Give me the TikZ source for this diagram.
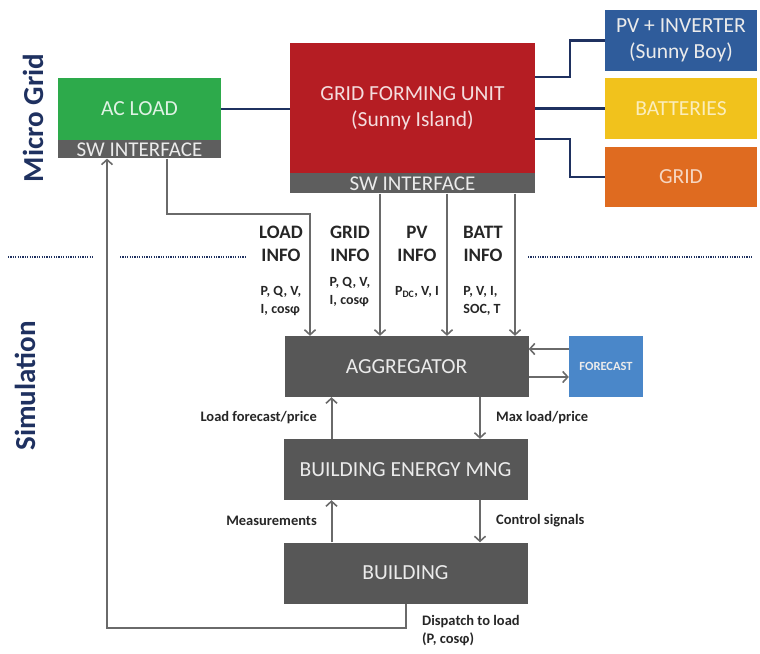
\documentclass[tikz,border=0pt]{standalone}
\usepackage{fontspec}
\setmainfont{Carlito}
\usepackage{tikz}
\usetikzlibrary{
  positioning,
  calc,
  arrows.meta
}
\definecolor{navy}{HTML}{1F3160}
\definecolor{darkbox}{HTML}{575757}
\definecolor{swgray}{HTML}{5E5E5E}
\definecolor{lineg}{HTML}{6A6A6A}
\definecolor{loadgreen}{HTML}{2DAA4B}
\definecolor{gfured}{HTML}{B51D23}
\definecolor{pvblue}{HTML}{2F5C9B}
\definecolor{battyellow}{HTML}{F1C21C}
\definecolor{gridorange}{HTML}{DF6B20}
\definecolor{fcblue}{HTML}{4A87C9}
\tikzstyle{box}=[inner sep=0, align=center, text=white!92!black, font=\fontsize{21.5}{26}\selectfont]
\tikzstyle{swbox}=[box, fill=swgray, font=\fontsize{21}{22}\selectfont]
\tikzstyle{simbox}=[box, fill=darkbox, minimum width=244, minimum height=61]
\tikzstyle{power}=[navy, line width=2.2]
\tikzstyle{info}=[lineg, line width=2, -{Straight Barb[length=5pt,width=11pt,line width=1.6pt]}]
\tikzstyle{infolbl}=[inner sep=0, align=center, text=black!85, font=\bfseries\fontsize{19}{23}\selectfont]
\tikzstyle{parlbl}=[inner sep=0, align=left, text=black!85, font=\bfseries\fontsize{14}{17.5}\selectfont]
\tikzstyle{sidelbl}=[inner sep=0, align=left, text=black!85, font=\bfseries\fontsize{14.5}{18}\selectfont]
\tikzstyle{section}=[inner sep=0, rotate=90, text=navy, font=\bfseries\fontsize{29}{31}\selectfont]

\begin{document}
\begin{tikzpicture}[x=1pt, y=-1pt]
    \useasboundingbox (0,0) rectangle (760,653);

    % MICRO GRID
    \node[box, fill=loadgreen, minimum width=163, minimum height=62, text=white!85!loadgreen] (acload) at (139.5,109) {AC LOAD};
    \node[swbox, minimum width=163, minimum height=18, below=0 of acload] (aclsw) {SW INTERFACE};
    \node[box, fill=gfured, minimum width=245, minimum height=130, text=white!85!gfured] (gfu) at (412.5,108) {GRID FORMING UNIT\\(Sunny Island)};
    \node[swbox, minimum width=245, minimum height=20, below=0 of gfu] (gfusw) {SW INTERFACE};
    \node[box, fill=pvblue, minimum width=152, minimum height=61] (pv) at (681,40.5) {PV + INVERTER\\(Sunny Boy)};
    \node[box, fill=battyellow, minimum width=152, minimum height=61, text=white!70!battyellow] (batt) at (681,108.5) {BATTERIES};
    \node[box, fill=gridorange, minimum width=152, minimum height=60, text=white!72!gridorange] (grid) at (681,177) {GRID};

    \draw[power] (acload.east) -- (acload.east -| gfu.west);
    \draw[power] ([yshift=31pt]gfu.east) -- ++(35,0) |- (pv.west);
    \draw[power] (batt.west -| gfu.east) -- (batt.west);
    \draw[power] ([yshift=-31pt]gfu.east) -- ++(35,0) |- (grid.west);

    % SIMULATION
    \node[simbox] (agg) at (406.5,366.5) {AGGREGATOR};
    \node[box, fill=fcblue, minimum width=74, minimum height=61, font=\bfseries\fontsize{12.5}{14}\selectfont] (fc) at (606,366.5) {FORECAST};
    \node[simbox] (bem) at (405.5,469.5) {BUILDING ENERGY MNG};
    \node[simbox] (bld) at (405.5,573) {BUILDING};

    % SECTIONS
    \node[section] (mg) at (33,118) {Micro Grid};
    \node[section] (sim) at (25,386) {Simulation};
    \draw[navy, line width=1.6, dash pattern=on 1.2pt off 1.2pt] (8,257) -- (93,257);
    \draw[navy, line width=1.6, dash pattern=on 1.2pt off 1.2pt] (120,257) -- (247,257);
    \draw[navy, line width=1.6, dash pattern=on 1.2pt off 1.2pt] (528,257) -- (752,257);

    % INFO ARROWS
    \draw[info] ([xshift=27.5pt]aclsw.south) -- ++(0,55) -| ([xshift=-96.5pt]agg.north);
    \foreach \dx/\nm in {-32.5/gridtap, 34.5/pvtap, 102.5/batttap}{
        \coordinate (\nm) at ([xshift=\dx pt]gfusw.south);
        \draw[info] (\nm) -- (\nm |- agg.north);
      }
    \node[infolbl] (loadinfo) at (281,243.5) {LOAD\\INFO};
    \node[infolbl] (gridinfo) at (350,243.5) {GRID\\INFO};
    \node[infolbl] (pvinfo)   at (417,243.5) {PV\\INFO};
    \node[infolbl] (battinfo) at (483,243.5) {BATT\\INFO};
    \node[parlbl] (loadpar) at (281,301) {P, Q, V,\\I, cosφ};
    \node[parlbl] (gridpar) at (350,292) {P, Q, V,\\I, cosφ};
    \node[parlbl] (pvpar)   at (417,292) {P\textsubscript{DC}, V, I};
    \node[parlbl] (battpar) at (482,301) {P, V, I,\\SOC, T};

    % FORECAST
    \draw[info] ([yshift=17.5pt]fc.west) -- ([yshift=17.5pt]agg.east);
    \draw[info] ([yshift=-10.5pt]agg.east) -- ([yshift=-10.5pt]fc.west);

    % BUILDING LOOP
    \coordinate (upx) at ([xshift=-74pt]bem.north);
    \coordinate (dnx) at ([xshift=74.5pt]bem.north);
    \draw[info] (upx) -- (upx |- agg.south);
    \draw[info] (dnx |- agg.south) -- (dnx);
    \draw[info] (upx |- bld.north) -- (upx |- bem.south);
    \draw[info] (dnx |- bem.south) -- (dnx |- bld.north);
    \node[sidelbl, anchor=east] (lfp) at (317,418) {Load forecast/price};
    \node[sidelbl, anchor=west] (mlp) at (496,418) {Max load/price};
    \node[sidelbl, anchor=east] (meas) at (317,521) {Measurements};
    \node[sidelbl, anchor=west] (ctrl) at (496,521) {Control signals};

    % DISPATCH
    \draw[info] (bld.south) -- ++(0,24) -| ([xshift=-32.5pt]aclsw.south);
    \node[sidelbl, anchor=north west] (disp) at (422,615) {Dispatch to load\\(P, cosφ)};
  \end{tikzpicture}
\end{document}
